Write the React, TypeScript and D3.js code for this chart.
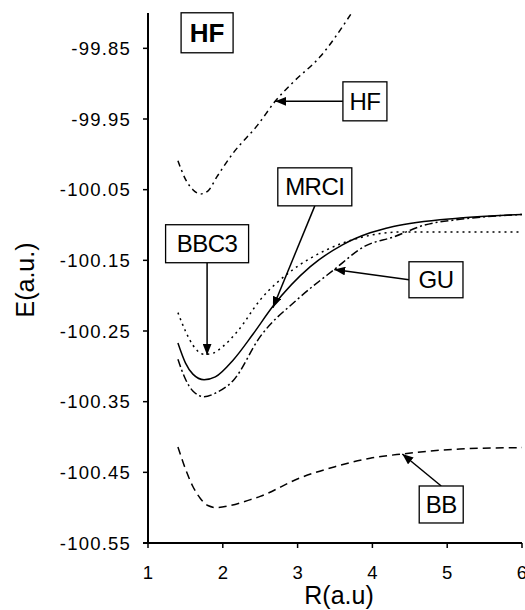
import React from "react";
import * as d3 from "d3";

// Potential energy curves for HF, energy E (a.u.) versus bond length R (a.u.)
const rTicks = [1, 2, 3, 4, 5, 6];
const eTicks = [-99.85, -99.95, -100.05, -100.15, -100.25, -100.35, -100.45, -100.55];

const hfCurve: [number, number][] = [
  [1.4, -100.009], [1.5, -100.035], [1.6, -100.05], [1.7, -100.056], [1.8, -100.052],
  [1.92, -100.032], [2.14, -99.998], [2.47, -99.958], [2.7, -99.925], [2.94, -99.898],
  [3.3, -99.862], [3.71, -99.802],
];
const mrciCurve: [number, number][] = [
  [1.4, -100.267], [1.5, -100.295], [1.6, -100.311], [1.75, -100.319], [1.9, -100.315],
  [2.14, -100.291], [2.4, -100.255], [2.67, -100.215], [3.17, -100.159], [3.6, -100.128],
  [3.97, -100.111], [4.28, -100.102], [5.17, -100.09], [6.0, -100.085],
];
const bbc3Curve: [number, number][] = [
  [1.4, -100.224], [1.5, -100.25], [1.6, -100.27], [1.75, -100.283], [1.85, -100.282],
  [2.0, -100.272], [2.2, -100.25], [2.5, -100.206], [2.94, -100.163], [3.39, -100.135],
  [3.87, -100.117], [4.37, -100.11], [5.0, -100.11], [6.0, -100.11],
];
const guCurve: [number, number][] = [
  [1.4, -100.29], [1.5, -100.318], [1.6, -100.335], [1.75, -100.343], [1.9, -100.338],
  [2.14, -100.32], [2.5, -100.258], [3.0, -100.205], [3.49, -100.163], [3.9, -100.13],
  [4.28, -100.117], [4.7, -100.1], [5.17, -100.092], [6.0, -100.085],
];
const bbCurve: [number, number][] = [
  [1.4, -100.414], [1.5, -100.445], [1.6, -100.47], [1.7, -100.487], [1.8, -100.497],
  [1.92, -100.5], [2.1, -100.497], [2.36, -100.489], [2.5, -100.484], [3.03, -100.458],
  [3.5, -100.442], [3.97, -100.43], [4.4, -100.424], [5.17, -100.417], [6.0, -100.415],
];

// Labelled callouts: box centre and arrow tip in data units
const callouts = [
  { text: "HF", box: [3.9, -99.925], w: 44, h: 39, tip: [2.7, -99.925], side: "left" },
  { text: "MRCI", box: [3.23, -100.046], w: 74, h: 38, tip: [2.67, -100.217], side: "bottom" },
  { text: "BBC3", box: [1.79, -100.1265], w: 83, h: 38, tip: [1.79, -100.284], side: "bottom" },
  { text: "GU", box: [4.85, -100.1775], w: 54, h: 36, tip: [3.49, -100.163], side: "left" },
  { text: "BB", box: [4.92, -100.4955], w: 44, h: 37, tip: [4.4, -100.424], side: "top" },
];

const series = [
  { name: "HF", data: hfCurve, dash: "6,4,2,4" },
  { name: "MRCI", data: mrciCurve, dash: "none" },
  { name: "BBC3", data: bbc3Curve, dash: "2,4" },
  { name: "GU", data: guCurve, dash: "8,3,2,3" },
  { name: "BB", data: bbCurve, dash: "8,5" },
];

const W = 525;
const H = 610;
const x0 = 148, x1 = 522, yTop = 13, yBot = 543;
const FONT = "'Liberation Sans', Arial, sans-serif";

export default function App() {
  const x = d3.scaleLinear().domain([1, 6]).range([x0, x1]);
  const y = d3.scaleLinear().domain([-100.55, -99.8]).range([yBot, yTop]);
  const line = d3
    .line<[number, number]>()
    .x((d) => x(d[0]))
    .y((d) => y(d[1]))
    .curve(d3.curveMonotoneX);

  return (
    <svg
      width={W}
      height={H}
      style={{ position: "absolute", left: 0, top: 0, background: "#fff" }}
      fontFamily={FONT}
    >
      <defs>
        <clipPath id="plot">
          <rect x={x0} y={yTop} width={x1 - x0 + 4} height={yBot - yTop} />
        </clipPath>
        <marker
          id="head"
          viewBox="0 0 10 8"
          refX={10}
          refY={4}
          markerWidth={11}
          markerHeight={9}
          markerUnits="userSpaceOnUse"
          orient="auto"
        >
          <path d="M0,0 L10,4 L0,8 Z" fill="#000" />
        </marker>
      </defs>

      {/* curves */}
      <g clipPath="url(#plot)">
        {series.map((s) => (
          <path
            key={s.name}
            d={line(s.data) || ""}
            fill="none"
            stroke="#000"
            strokeWidth={1.5}
            strokeDasharray={s.dash}
          />
        ))}
      </g>

      {/* axes */}
      <line x1={x0} y1={yTop} x2={x0} y2={yBot} stroke="#000" strokeWidth={2} />
      <line x1={x0 - 5} y1={yBot} x2={x1} y2={yBot} stroke="#000" strokeWidth={2} />
      {eTicks.map((t) => (
        <g key={t}>
          <line x1={x0 - 5} x2={x0} y1={y(t)} y2={y(t)} stroke="#000" strokeWidth={1.5} />
          <text
            x={x0 - 17}
            y={y(t) + 6.5}
            textAnchor="end"
            fontSize={18.5}
            letterSpacing={1.2}
          >
            {t.toFixed(2)}
          </text>
        </g>
      ))}
      {rTicks.map((t) => (
        <g key={t}>
          <line x1={x(t)} x2={x(t)} y1={yBot} y2={yBot + 5} stroke="#000" strokeWidth={1.5} />
          <text x={x(t)} y={yBot + 36} textAnchor="middle" fontSize={18.5}>
            {t}
          </text>
        </g>
      ))}
      <text x={339} y={604} textAnchor="middle" fontSize={25}>
        R(a.u)
      </text>
      <text
        transform="translate(34,280) rotate(-90)"
        textAnchor="middle"
        fontSize={25}
      >
        E(a.u.)
      </text>

      {/* chart title box */}
      <g>
        <rect x={x(1.79) - 26} y={y(-99.828) - 20} width={52} height={40} fill="#fff" stroke="#000" strokeWidth={1.3} />
        <text x={x(1.79)} y={y(-99.828) + 9.5} textAnchor="middle" fontSize={26} fontWeight="bold">
          HF
        </text>
      </g>

      {/* callouts */}
      {callouts.map((c) => {
        const cx = x(c.box[0]);
        const cy = y(c.box[1]);
        const tx = x(c.tip[0]);
        const ty = y(c.tip[1]);
        let sx = cx, sy = cy;
        if (c.side === "left") sx = cx - c.w / 2;
        if (c.side === "bottom") sy = cy + c.h / 2;
        if (c.side === "top") sy = cy - c.h / 2;
        return (
          <g key={c.text}>
            <line x1={sx} y1={sy} x2={tx} y2={ty} stroke="#000" strokeWidth={1.5} markerEnd="url(#head)" />
            <rect x={cx - c.w / 2} y={cy - c.h / 2} width={c.w} height={c.h} fill="#fff" stroke="#000" strokeWidth={1.3} />
            <text x={cx} y={cy + 8.5} textAnchor="middle" fontSize={24} letterSpacing={-0.5}>
              {c.text}
            </text>
          </g>
        );
      })}
    </svg>
  );
}
